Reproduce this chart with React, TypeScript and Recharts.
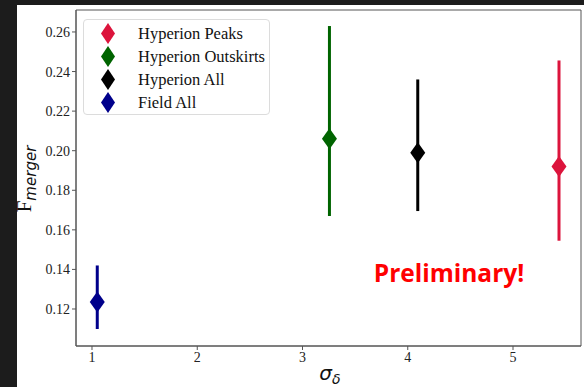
import React from "react"
import { ScatterChart, Scatter, XAxis, YAxis, ErrorBar, Text, ReferenceArea } from "recharts"

// environment density (x), merger fraction (y), lower / upper error
const groupNames = ["Hyperion Peaks", "Hyperion Outskirts", "Hyperion All", "Field All"]
const groupColors = ["#DC143C", "#006400", "#000000", "#00008B"]
const sigmaValues = [5.437, 3.256, 4.095, 1.05]
const fMergerValues = [0.192, 0.206, 0.199, 0.1235]
const errLow = [0.0375, 0.039, 0.0295, 0.0136]
const errHigh = [0.0536, 0.057, 0.037, 0.0185]

const xTicks = [1, 2, 3, 4, 5]
const yTicks = [0.12, 0.14, 0.16, 0.18, 0.2, 0.22, 0.24, 0.26]
const xDomain: [number, number] = [0.848, 5.646]
const yDomain: [number, number] = [0.1013, 0.2711]

const serif = "'Liberation Serif', 'Times New Roman', serif"

const Diamond = (props: any) => {
    const { cx, cy, fill } = props
    if (cx == null || cy == null) return null
    const w = 7.5
    const h = 10.5
    return (
        <polygon
            points={`${cx},${cy - h} ${cx + w},${cy} ${cx},${cy + h} ${cx - w},${cy}`}
            fill={fill}
        />
    )
}

const LegendBox = () => (
    <div
        style={{
            position: "absolute",
            left: 83,
            top: 19,
            width: 187,
            height: 96,
            border: "1px solid #dcdcdc",
            borderRadius: 4,
            background: "rgba(255,255,255,0.8)",
            boxSizing: "border-box",
            paddingTop: 2,
        }}
    >
        {groupNames.map((name, i) => (
            <div key={name} style={{ display: "flex", alignItems: "center", height: 23 }}>
                <svg width={50} height={23}>
                    <polygon points="24,1 31,11.5 24,22 17,11.5" fill={groupColors[i]} />
                </svg>
                <span style={{ fontFamily: serif, fontSize: 16.5, color: "#111", marginLeft: 4 }}>{name}</span>
            </div>
        ))}
    </div>
)

const YLabel = () => (
    <text transform="translate(31,179) rotate(-90)" textAnchor="middle" fill="#111">
        <tspan fontFamily={serif} fontSize={21}>F</tspan>
        <tspan fontFamily="'DejaVu Sans', sans-serif" fontStyle="italic" fontSize={15} dy={5}>merger</tspan>
    </text>
)

const XLabel = () => (
    <text x={330} y={380} textAnchor="middle" fill="#111">
        <tspan fontFamily="'DejaVu Sans', sans-serif" fontStyle="italic" fontSize={20}>σ</tspan>
        <tspan fontFamily="'DejaVu Sans', sans-serif" fontStyle="italic" fontSize={14} dy={4}>δ</tspan>
    </text>
)

export default function App() {
    const series = groupNames.map((name, i) => ({
        name,
        color: groupColors[i],
        data: [{ x: sigmaValues[i], y: fMergerValues[i], err: [errLow[i], errHigh[i]] }],
    }))

    return (
        <div style={{ position: "fixed", left: 0, top: 0, width: 584, height: 387, background: "#1c1c1c" }}>
            <div style={{ position: "absolute", left: 17, top: 5, width: 567, height: 382, background: "#fff" }} />
            <div style={{ position: "absolute", left: 0, top: 0 }}>
                <ScatterChart width={584} height={387} margin={{ top: 10, right: 3, bottom: 11, left: 16 }}>
                    <XAxis
                        type="number"
                        dataKey="x"
                        domain={xDomain}
                        ticks={xTicks}
                        allowDataOverflow
                        height={30}
                        tickSize={4}
                        tickMargin={2}
                        stroke="#555"
                        tick={{ fill: "#222", fontFamily: serif, fontSize: 14 }}
                    />
                    <YAxis
                        type="number"
                        dataKey="y"
                        domain={yDomain}
                        ticks={yTicks}
                        allowDataOverflow
                        width={60}
                        tickSize={4}
                        tickMargin={2}
                        stroke="#555"
                        tickFormatter={(v: number) => v.toFixed(2)}
                        tick={{ fill: "#222", fontFamily: serif, fontSize: 14 }}
                    />
                    <ReferenceArea
                        x1={xDomain[0]}
                        x2={xDomain[1]}
                        y1={yDomain[0]}
                        y2={yDomain[1]}
                        fill="none"
                        fillOpacity={0}
                        stroke="#555"
                        strokeWidth={1}
                        ifOverflow="visible"
                    />
                    {series.map((s) => (
                        <Scatter
                            key={s.name}
                            name={s.name}
                            data={s.data}
                            fill={s.color}
                            shape={<Diamond />}
                            isAnimationActive={false}
                        >
                            <ErrorBar dataKey="err" direction="y" width={0} strokeWidth={3} stroke={s.color} />
                        </Scatter>
                    ))}
                    <YLabel />
                    <XLabel />
                    <Text
                        x={449}
                        y={273}
                        textAnchor="middle"
                        verticalAnchor="middle"
                        fill="#FF0000"
                        fontFamily="'Open Sans', sans-serif"
                        fontWeight={700}
                        fontSize={24.5}
                    >
                        Preliminary!
                    </Text>
                </ScatterChart>
            </div>
            <LegendBox />
        </div>
    )
}
